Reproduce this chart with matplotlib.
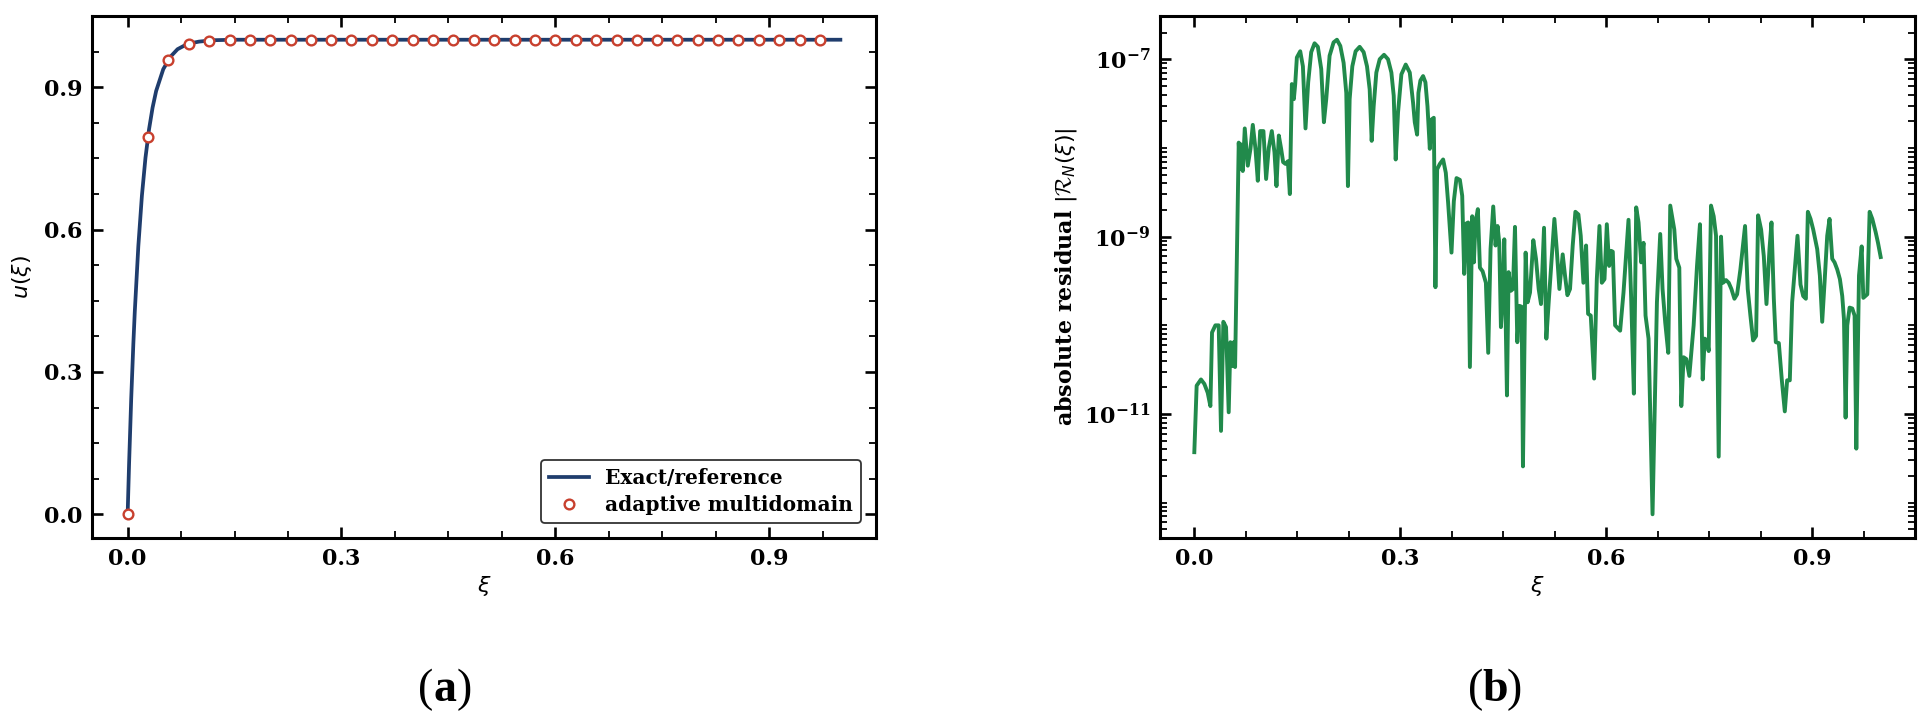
import numpy as np
import matplotlib
matplotlib.use("Agg")
import matplotlib.pyplot as plt
from matplotlib.ticker import MultipleLocator, AutoMinorLocator, LogLocator, NullFormatter

# --- panel (a): solution u(xi) ---
xi_exact = [0.0, 0.002, 0.005, 0.008, 0.01, 0.015, 0.02, 0.025, 0.03, 0.035, 0.04,
            0.05, 0.06, 0.07, 0.08, 0.09, 0.10, 0.12, 0.15, 0.20, 0.40, 0.70, 1.0]
u_exact = [0.0, 0.105, 0.243, 0.359, 0.426, 0.565, 0.671, 0.751, 0.811, 0.857, 0.892,
           0.938, 0.964, 0.980, 0.988, 0.993, 0.996, 0.999, 1.0, 1.0, 1.0, 1.0, 1.0]

xi_mark = [0.000, 0.029, 0.057, 0.086, 0.114, 0.143, 0.171, 0.200, 0.229, 0.257,
           0.286, 0.314, 0.343, 0.371, 0.400, 0.429, 0.457, 0.486, 0.514, 0.543,
           0.571, 0.600, 0.629, 0.657, 0.686, 0.714, 0.743, 0.771, 0.800, 0.829,
           0.857, 0.886, 0.914, 0.943, 0.971]
u_mark = [0.0, 0.795, 0.958, 0.991, 0.998] + [1.0] * 30

# --- panel (b): absolute residual, stored as log10 values ---
xi_res = [
    0.0000, 0.0034, 0.0097, 0.0146, 0.0195, 0.0234, 0.0258, 0.0307, 0.0355, 0.0389,
    0.0423, 0.0462, 0.0501, 0.0526, 0.0550, 0.0574, 0.0594, 0.0647, 0.0667, 0.0681,
    0.0706, 0.0735, 0.0779, 0.0818, 0.0852, 0.0891, 0.0925, 0.0959, 0.1007, 0.1046,
    0.1085, 0.1129, 0.1168, 0.1197, 0.1231, 0.1265, 0.1294, 0.1328, 0.1363, 0.1392,
    0.1421, 0.1450, 0.1470, 0.1494, 0.1543, 0.1582, 0.1620, 0.1659, 0.1703, 0.1752,
    0.1800, 0.1849, 0.1888, 0.1922, 0.1971, 0.2029, 0.2078, 0.2127, 0.2175, 0.2214,
    0.2238, 0.2263, 0.2302, 0.2350, 0.2409, 0.2467, 0.2516, 0.2555, 0.2584, 0.2613,
    0.2652, 0.2701, 0.2764, 0.2822, 0.2871, 0.2905, 0.2934, 0.2968, 0.3017, 0.3080,
    0.3139, 0.3187, 0.3212, 0.3246, 0.3265, 0.3294, 0.3333, 0.3367, 0.3397, 0.3431,
    0.3455, 0.3489, 0.3513,
    0.3538, 0.3577, 0.3625, 0.3664, 0.3698, 0.3747, 0.3781, 0.3820, 0.3869, 0.3903,
    0.3932, 0.3966, 0.3990, 0.4015, 0.4049, 0.4073, 0.4097, 0.4131, 0.4161, 0.4200,
    0.4248, 0.4282, 0.4316, 0.4355, 0.4389, 0.4418, 0.4443, 0.4467, 0.4491, 0.4516,
    0.4555, 0.4579, 0.4613, 0.4642, 0.4672, 0.4706, 0.4735, 0.4769, 0.4788, 0.4827,
    0.4856, 0.4891, 0.4939, 0.4978, 0.5017, 0.5051, 0.5095, 0.5129, 0.5163, 0.5246,
    0.5280, 0.5319, 0.5367, 0.5401, 0.5436, 0.5474, 0.5513, 0.5552, 0.5596, 0.5630,
    0.5669, 0.5708, 0.5737, 0.5776, 0.5825, 0.5864, 0.5903, 0.5937, 0.5976, 0.6010,
    0.6044, 0.6073, 0.6097, 0.6131, 0.6204, 0.6253, 0.6326, 0.6365, 0.6404, 0.6438,
    0.6472, 0.6511, 0.6545, 0.6574, 0.6618, 0.6676, 0.6740, 0.6788, 0.6822, 0.6861,
    0.6905,
    0.6934, 0.6993, 0.7022, 0.7066, 0.7095, 0.7129, 0.7168, 0.7212, 0.7275, 0.7324,
    0.7367, 0.7407, 0.7436, 0.7470, 0.7494, 0.7528, 0.7567, 0.7601, 0.7640, 0.7674,
    0.7703, 0.7747, 0.7786, 0.7825, 0.7869, 0.7908, 0.7956, 0.8024, 0.8063, 0.8102,
    0.8141, 0.8185, 0.8214, 0.8258, 0.8297, 0.8336, 0.8380, 0.8409, 0.8443, 0.8472,
    0.8516, 0.8560, 0.8603, 0.8637, 0.8676, 0.8710, 0.8749, 0.8788, 0.8832, 0.8871,
    0.8910, 0.8939, 0.8978, 0.9017, 0.9075, 0.9114, 0.9148, 0.9182, 0.9221, 0.9255,
    0.9294, 0.9328, 0.9367, 0.9406, 0.9440, 0.9465, 0.9489, 0.9513, 0.9547, 0.9586,
    0.9620, 0.9645, 0.9684, 0.9723, 0.9747, 0.9805, 0.9839, 0.9878, 0.9927, 0.9961,
    1.0000]
res_log10 = [
    -11.43, -10.68, -10.61, -10.66, -10.76, -10.91, -10.08, -10.00, -10.00, -11.19,
    -9.96, -10.02, -10.98, -10.19, -10.46, -10.19, -10.47, -7.94, -8.24, -7.96,
    -8.26, -7.78, -8.20, -8.01, -7.74, -8.01, -8.37, -7.81, -7.81, -8.35,
    -8.00, -7.81, -8.05, -8.43, -7.86, -8.01, -8.16, -8.18, -8.15, -8.52,
    -7.28, -7.45, -7.28, -6.98, -6.91, -7.08, -7.78, -7.26, -6.92, -6.82,
    -6.86, -7.11, -7.71, -7.45, -6.96, -6.81, -6.78, -6.85, -7.04, -7.38,
    -8.43, -7.45, -7.08, -6.91, -6.86, -6.92, -7.08, -7.34, -7.92, -7.53,
    -7.15, -7.00, -6.95, -7.00, -7.15, -7.41, -8.13, -7.60, -7.17, -7.06,
    -7.15, -7.49, -7.71, -7.85, -7.38, -7.24, -7.19, -7.26, -7.53, -8.01,
    -7.68, -7.66, -9.57,
    -8.24, -8.18, -8.13, -8.28, -8.62, -9.18, -8.60, -8.34, -8.36, -8.54,
    -9.42, -8.85, -8.84, -10.47, -8.77, -9.29, -8.84, -8.69, -9.35, -9.39,
    -9.52, -10.31, -9.14, -8.66, -9.10, -8.88, -9.07, -10.02, -9.70, -9.03,
    -10.79, -9.40, -9.61, -9.59, -8.89, -10.19, -9.78, -9.79, -11.59, -9.18,
    -9.74, -9.63, -9.04, -9.25, -9.59, -9.76, -8.90, -10.15, -9.74, -8.80,
    -9.14, -9.59, -9.20, -9.44, -9.66, -9.59, -9.10, -8.72, -8.75, -8.99,
    -9.52, -9.10, -9.87, -9.89, -10.60, -9.48, -8.88, -9.52, -9.48, -8.86,
    -9.33, -9.16, -9.17, -10.00, -10.06, -9.63, -8.81, -9.70, -10.77, -8.67,
    -8.84, -9.29, -9.07, -9.89, -10.15, -12.13, -9.74, -8.97, -9.59, -9.97,
    -10.31,
    -8.65, -8.92, -9.25, -9.35, -10.91, -10.36, -10.38, -10.57, -10.00, -9.33,
    -8.86, -10.61, -10.15, -10.17, -10.29, -8.65, -8.77, -8.99, -11.48, -9.00,
    -9.52, -9.49, -9.52, -9.59, -9.70, -9.65, -9.37, -8.88, -9.59, -9.89,
    -10.17, -10.12, -8.76, -8.92, -9.22, -9.76, -9.14, -8.84, -9.70, -10.19,
    -10.20, -10.62, -10.97, -10.62, -10.62, -9.74, -9.37, -8.99, -9.54, -9.67,
    -9.70, -8.72, -8.80, -8.92, -9.14, -9.44, -9.96, -9.52, -8.99, -8.80,
    -9.25, -9.29, -9.37, -9.48, -9.67, -9.93, -11.04, -10.00, -9.80, -9.81,
    -9.89, -11.39, -9.44, -9.11, -9.69, -9.65, -8.72, -8.80, -8.95, -9.07,
    -9.23]
res_major = [1e-11, 1e-9, 1e-7]

plt.rcParams['font.family'] = 'serif'
plt.rcParams['font.serif'] = ['DejaVu Serif']
plt.rcParams['font.weight'] = 'bold'
plt.rcParams['axes.labelweight'] = 'bold'
plt.rcParams['font.size'] = 16
# math symbols in normal-weight sans italic, calligraphic R from cmsy
plt.rcParams['mathtext.fontset'] = 'custom'
plt.rcParams['mathtext.rm'] = 'DejaVu Sans:normal'
plt.rcParams['mathtext.it'] = 'DejaVu Sans:italic:normal'
plt.rcParams['mathtext.bf'] = 'DejaVu Sans:bold'
plt.rcParams['mathtext.cal'] = 'cmsy10'

W, H = 1931, 724
fig = plt.figure(figsize=(W / 100, H / 100), dpi=100)
ax1 = fig.add_axes([92 / W, 1 - 538 / H, 784 / W, 522 / H])
ax2 = fig.add_axes([1160 / W, 1 - 538 / H, 755 / W, 522 / H])

def style_axes(ax):
    for sp in ax.spines.values():
        sp.set_linewidth(2.2)
    ax.tick_params(which='both', direction='in', top=True, right=True, labelsize=16)
    ax.tick_params(which='major', length=8, width=1.9, pad=7)
    ax.tick_params(which='minor', length=4.8, width=1.3)

# (a)
ax1.plot(xi_exact, u_exact, color='#1f3d6d', lw=2.7, label='Exact/reference', zorder=2)
ax1.plot(xi_mark, u_mark, 'o', ms=7, mfc='white', mec='#c8402e', mew=1.7,
         label='adaptive multidomain', zorder=3)
ax1.xaxis.set_major_locator(MultipleLocator(0.3))
ax1.yaxis.set_major_locator(MultipleLocator(0.3))
ax1.xaxis.set_minor_locator(AutoMinorLocator(4))
ax1.yaxis.set_minor_locator(AutoMinorLocator(4))
style_axes(ax1)
ax1.set_xlabel(r'$\xi$')
ax1.set_ylabel(r'$u(\xi)$')
ax1.xaxis.set_label_coords(0.5, -0.069)
ax1.yaxis.set_label_coords(-0.074, 0.5)
leg = ax1.legend(loc='lower right', fontsize=14.5, frameon=True, fancybox=True,
                 framealpha=1, edgecolor='#333333', borderaxespad=0.75,
                 handlelength=2.0, borderpad=0.4, labelspacing=0.35)
leg.get_frame().set_linewidth(1.3)

# (b)
ax2.semilogy(xi_res, 10.0 ** np.array(res_log10), color='#218a4b', lw=2.8)
ax2.xaxis.set_major_locator(MultipleLocator(0.3))
ax2.xaxis.set_minor_locator(AutoMinorLocator(4))
ax2.set_yticks(res_major)
ax2.yaxis.set_minor_locator(LogLocator(base=10.0, subs=np.arange(1, 10), numticks=100))
ax2.yaxis.set_minor_formatter(NullFormatter())
style_axes(ax2)
ax2.set_xlabel(r'$\xi$')
ax2.set_ylabel(r'absolute residual $|\mathcal{R}_N(\xi)|$')
ax2.xaxis.set_label_coords(0.5, -0.069)
ax2.yaxis.set_label_coords(-0.107, 0.5)

# sub-figure captions: regular parentheses around a bold letter
for cx, letter in [(445, 'a'), (1495, 'b')]:
    by = 1 - 701 / H
    fig.text(cx / W, by, letter, ha='center', va='baseline', fontsize=33,
             family='Liberation Serif', fontweight='bold')
    fig.text((cx - 12) / W, by, '(', ha='right', va='baseline', fontsize=33,
             family='Liberation Serif', fontweight='normal')
    fig.text((cx + 12) / W, by, ')', ha='left', va='baseline', fontsize=33,
             family='Liberation Serif', fontweight='normal')

fig.savefig('out.png', dpi=100)
